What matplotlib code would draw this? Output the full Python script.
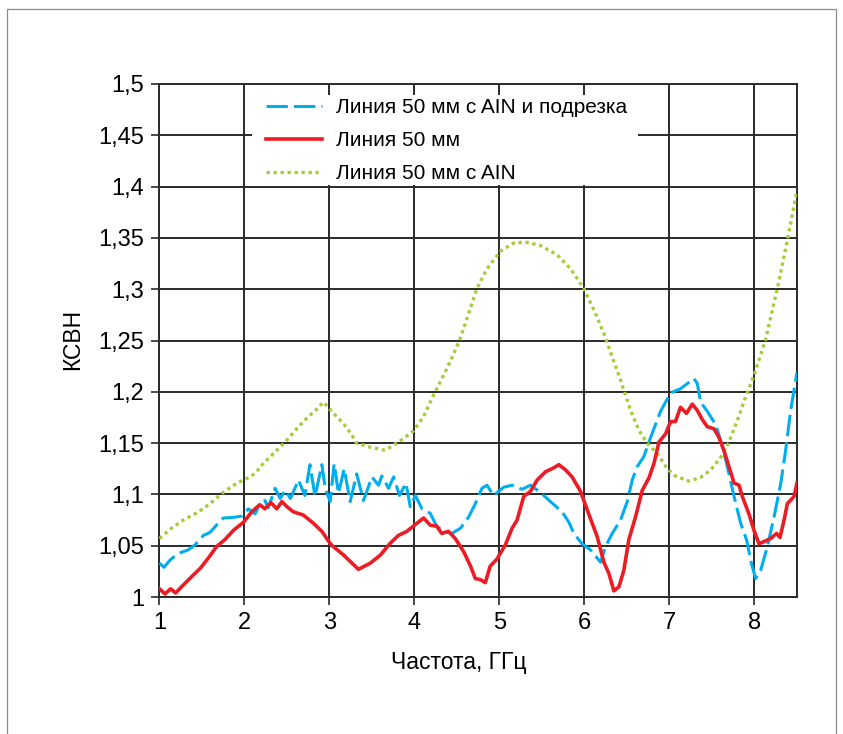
import numpy as np
import matplotlib
matplotlib.use('Agg')
import matplotlib.pyplot as plt
from matplotlib.patches import Rectangle

plt.rcParams['font.family'] = ['Liberation Sans', 'DejaVu Sans']

# (частота ГГц, КСВН)
blue_pts = [(1.0, 1.033), (1.053, 1.029), (1.124, 1.036), (1.22, 1.0425), (1.34, 1.046),
            (1.42, 1.051), (1.516, 1.060), (1.595, 1.063), (1.67, 1.070), (1.75, 1.077),
            (1.87, 1.0776), (1.97, 1.079), (2.045, 1.086), (2.125, 1.081), (2.18, 1.091),
            (2.24, 1.094), (2.28, 1.087), (2.36, 1.106), (2.42, 1.096), (2.48, 1.104),
            (2.54, 1.096), (2.635, 1.114), (2.71, 1.099), (2.77, 1.129), (2.83, 1.098),
            (2.91, 1.129), (2.95, 1.106), (3.008, 1.093), (3.055, 1.130), (3.106, 1.101),
            (3.173, 1.125), (3.243, 1.093), (3.32, 1.120), (3.40, 1.094), (3.50, 1.117),
            (3.577, 1.109), (3.616, 1.118), (3.695, 1.106), (3.754, 1.117), (3.824, 1.099),
            (3.90, 1.111), (3.95, 1.088), (4.01, 1.099), (4.088, 1.086), (4.186, 1.0815),
            (4.264, 1.0685), (4.36, 1.0636), (4.44, 1.062), (4.54, 1.067), (4.637, 1.078),
            (4.716, 1.091), (4.794, 1.106), (4.853, 1.109), (4.93, 1.099), (5.05, 1.107),
            (5.148, 1.109), (5.266, 1.105), (5.364, 1.109), (5.48, 1.102), (5.60, 1.093),
            (5.737, 1.083), (5.816, 1.073), (5.875, 1.062), (5.97, 1.052), (6.07, 1.046),
            (6.189, 1.034), (6.247, 1.049), (6.326, 1.062), (6.424, 1.075), (6.503, 1.093),
            (6.562, 1.114), (6.62, 1.127), (6.699, 1.137), (6.758, 1.151), (6.817, 1.164),
            (6.895, 1.181), (7.013, 1.199), (7.13, 1.203), (7.21, 1.208), (7.288, 1.213),
            (7.327, 1.208), (7.366, 1.190), (7.445, 1.181), (7.543, 1.168), (7.62, 1.148),
            (7.70, 1.120), (7.76, 1.098), (7.837, 1.072), (7.908, 1.0555), (7.963, 1.033),
            (8.014, 1.018), (8.073, 1.026), (8.151, 1.049), (8.23, 1.078), (8.31, 1.111),
            (8.367, 1.143), (8.426, 1.182), (8.5, 1.219)]

red_pts = [(1.0, 1.008), (1.065, 1.003), (1.13, 1.008), (1.19, 1.004), (1.26, 1.010),
           (1.38, 1.020), (1.48, 1.028), (1.575, 1.038), (1.67, 1.049), (1.77, 1.056),
           (1.87, 1.065), (1.99, 1.073), (2.085, 1.083), (2.18, 1.090), (2.24, 1.086),
           (2.31, 1.092), (2.38, 1.086), (2.44, 1.093), (2.50, 1.088), (2.575, 1.083),
           (2.69, 1.080), (2.81, 1.072), (2.91, 1.064), (3.01, 1.052), (3.047, 1.049),
           (3.165, 1.041), (3.34, 1.027), (3.48, 1.033), (3.60, 1.041), (3.71, 1.052),
           (3.81, 1.060), (3.91, 1.064), (4.03, 1.072), (4.107, 1.077), (4.186, 1.070),
           (4.264, 1.069), (4.32, 1.062), (4.40, 1.064), (4.48, 1.057), (4.58, 1.044),
           (4.66, 1.030), (4.716, 1.018), (4.775, 1.017), (4.833, 1.014), (4.89, 1.030),
           (4.97, 1.037), (5.07, 1.051), (5.148, 1.067), (5.207, 1.075), (5.285, 1.098),
           (5.364, 1.103), (5.443, 1.114), (5.541, 1.122), (5.64, 1.126), (5.698, 1.129),
           (5.776, 1.124), (5.855, 1.117), (5.953, 1.103), (6.05, 1.081), (6.149, 1.059),
           (6.228, 1.034), (6.287, 1.023), (6.346, 1.006), (6.405, 1.010), (6.463, 1.026),
           (6.522, 1.056), (6.60, 1.078), (6.68, 1.104), (6.758, 1.116), (6.817, 1.130),
           (6.876, 1.151), (6.954, 1.159), (7.013, 1.171), (7.07, 1.171), (7.13, 1.185),
           (7.20, 1.179), (7.268, 1.188), (7.327, 1.182), (7.386, 1.173), (7.445, 1.166),
           (7.523, 1.164), (7.58, 1.156), (7.64, 1.143), (7.70, 1.127), (7.76, 1.111),
           (7.818, 1.109), (7.857, 1.098), (7.935, 1.081), (7.994, 1.065), (8.053, 1.052),
           (8.112, 1.054), (8.19, 1.057), (8.26, 1.062), (8.30, 1.058), (8.348, 1.075),
           (8.387, 1.091), (8.466, 1.098), (8.5, 1.111)]

green_pts = [(1.0, 1.057), (1.124, 1.066), (1.28, 1.075), (1.44, 1.082), (1.595, 1.091),
             (1.75, 1.102), (1.91, 1.111), (2.03, 1.1156), (2.125, 1.1205), (2.22, 1.130),
             (2.38, 1.143), (2.50, 1.153), (2.615, 1.164), (2.73, 1.174), (2.85, 1.183),
             (2.93, 1.190), (3.047, 1.179), (3.165, 1.169), (3.263, 1.158), (3.32, 1.150),
             (3.48, 1.146), (3.656, 1.143), (3.83, 1.152), (3.99, 1.162), (4.107, 1.176),
             (4.225, 1.197), (4.324, 1.213), (4.42, 1.2295), (4.532, 1.2506), (4.638, 1.2766),
             (4.736, 1.301), (4.854, 1.320), (5.011, 1.337), (5.168, 1.345), (5.305, 1.346),
             (5.482, 1.3425), (5.68, 1.3334), (5.835, 1.320), (5.99, 1.301), (6.11, 1.280),
             (6.228, 1.257), (6.326, 1.234), (6.41, 1.215), (6.463, 1.2016), (6.542, 1.182),
             (6.64, 1.1627), (6.738, 1.1497), (6.856, 1.140), (6.974, 1.125), (7.07, 1.118),
             (7.229, 1.113), (7.366, 1.1166), (7.484, 1.1237), (7.602, 1.136), (7.70, 1.151),
             (7.798, 1.172), (7.896, 1.195), (7.995, 1.216), (8.13, 1.2506), (8.27, 1.301),
             (8.388, 1.348), (8.5, 1.396)]

labels = ['Линия 50 мм с AIN и подрезка', 'Линия 50 мм', 'Линия 50 мм с AIN']
x_ticks = [1, 2, 3, 4, 5, 6, 7, 8]
y_ticks = [1.0, 1.05, 1.1, 1.15, 1.2, 1.25, 1.3, 1.35, 1.4, 1.45, 1.5]
y_tick_labels = ['1', '1,05', '1,1', '1,15', '1,2', '1,25', '1,3', '1,35', '1,4', '1,45', '1,5']

fig = plt.figure(figsize=(8.43, 7.34), dpi=100)
ax = fig.add_axes([0.1892, 0.1866, 0.7562, 0.699])

# thin grey frame around the whole picture
fig.patches.append(Rectangle((7 / 843, -0.05), 829 / 843, 1.05 - 9 / 734,
                             transform=fig.transFigure, fill=False,
                             edgecolor='#8c8c8c', lw=0.9))

bx, by = np.array(blue_pts).T
rx, ry = np.array(red_pts).T
gx, gy = np.array(green_pts).T

ax.plot(bx, by, color='#00aeef', lw=2.2, ls=(0, (7, 2)), label=labels[0], zorder=3)
ax.plot(rx, ry, color='#ed1c24', lw=2.6, label=labels[1], zorder=4)
ax.plot(gx, gy, color='#a5cc3a', lw=2.4, ls=(0, (1, 1.1)), label=labels[2], zorder=3)

ax.set_xlim(1, 8.5)
ax.set_ylim(1, 1.5)
ax.set_xticks(x_ticks)
ax.set_yticks(y_ticks)
ax.set_yticklabels(y_tick_labels)
ax.tick_params(labelsize=17, length=6, width=1.2, color='#2a2a2a', pad=5)
ax.grid(True, color='#2a2a2a', lw=1.4)
for s in ax.spines.values():
    s.set_color('#2a2a2a')
    s.set_linewidth(1.4)

ax.set_xlabel('Частота, ГГц', fontsize=16.5)
ax.set_ylabel('КСВН', fontsize=16.5)
ax.xaxis.set_label_coords(0.47, -0.127)
ax.yaxis.set_label_coords(-0.136, 0.503)
ax.xaxis.label.set_va('center')
ax.yaxis.label.set_va('center')

# white patch behind the legend, hiding the grid there
ax.add_patch(Rectangle((0.1452, 0.803), 0.606, 0.1756, transform=ax.transAxes,
                       facecolor='white', edgecolor='none', zorder=4.5))

leg = ax.legend(loc='upper left', bbox_to_anchor=(0.1672, 0.972), fontsize=15,
                frameon=False, handlelength=2.7, handletextpad=0.67,
                labelspacing=0.66, borderpad=0, borderaxespad=0)
leg.set_zorder(5)

fig.savefig('out.png', dpi=100)
